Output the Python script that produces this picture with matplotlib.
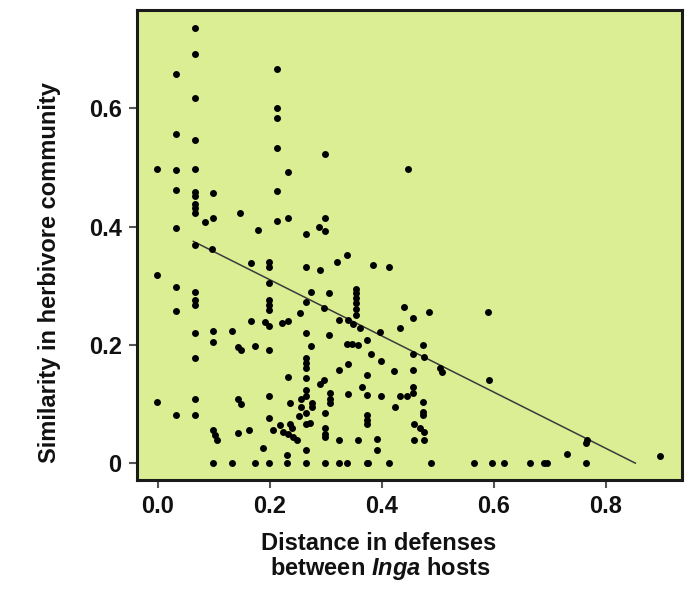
import matplotlib
matplotlib.use("Agg")
import matplotlib.pyplot as plt

# distance in defenses (x) vs. similarity in herbivore community (y)
dist_x = [
    0.066, 0.066, 0.032, 0.066, 0.032, 0.066, -0.001, 0.032, 0.066, 0.032,
    0.066, 0.066, 0.099, 0.066, 0.066, 0.066, 0.099, 0.084, 0.032, 0.147,
    0.179, 0.212, 0.212, 0.212, 0.212, 0.299, 0.233, 0.446, 0.212, 0.212,
    0.233, 0.299, 0.287, 0.299, 0.265, 0.066, 0.096,
    -0.001, 0.032, 0.032, 0.066, 0.066, 0.066, 0.066, 0.099, 0.099, 0.132,
    0.142, 0.148, 0.066, -0.001, 0.032, 0.066, 0.066, 0.142, 0.148, 0.099,
    0.102, 0.105, 0.142, 0.162, 0.099, 0.132,
    0.166, 0.199, 0.199, 0.265, 0.289, 0.320, 0.338, 0.384, 0.412,
    0.199, 0.273, 0.306, 0.265, 0.199, 0.199, 0.199, 0.296, 0.253,
    0.354, 0.354, 0.354, 0.354, 0.354, 0.354,
    0.439, 0.456, 0.484,
    0.166, 0.191, 0.199, 0.221, 0.233, 0.324, 0.340, 0.349, 0.361, 0.397, 0.432,
    0.174, 0.199, 0.265, 0.273, 0.306, 0.338, 0.346, 0.358, 0.373, 0.473,
    0.380, 0.398, 0.456, 0.475,
    0.265, 0.265, 0.265, 0.323, 0.339, 0.373, 0.421, 0.456,
    0.233, 0.265, 0.296, 0.290, 0.364, 0.373, 0.398, 0.432, 0.445, 0.456, 0.456,
    0.199, 0.265, 0.265, 0.235, 0.255, 0.255, 0.252, 0.275, 0.275, 0.308,
    0.308, 0.308, 0.340, 0.424, 0.473, 0.473, 0.473,
    0.199, 0.265, 0.265, 0.272, 0.299, 0.299, 0.299, 0.299, 0.373, 0.373,
    0.373, 0.457, 0.469, 0.475,
    0.206, 0.218, 0.224, 0.233, 0.242, 0.248, 0.235, 0.239,
    0.187, 0.265, 0.324, 0.358, 0.391, 0.391, 0.457, 0.475,
    0.174, 0.199, 0.231, 0.231, 0.265, 0.299, 0.323, 0.338, 0.373, 0.376,
    0.412, 0.487, 0.564, 0.597, 0.618, 0.665, 0.690, 0.695, 0.765,
    0.731, 0.765, 0.766, 0.898, 0.589, 0.591, 0.504, 0.507,
]
sim_y = [
    0.735, 0.691, 0.658, 0.617, 0.556, 0.547, 0.498, 0.495, 0.498, 0.462,
    0.459, 0.452, 0.457, 0.438, 0.431, 0.423, 0.415, 0.408, 0.397, 0.423,
    0.394, 0.666, 0.601, 0.584, 0.532, 0.522, 0.493, 0.498, 0.460, 0.409,
    0.415, 0.415, 0.400, 0.393, 0.387, 0.369, 0.362,
    0.318, 0.298, 0.257, 0.290, 0.276, 0.267, 0.220, 0.223, 0.205, 0.223,
    0.197, 0.191, 0.178, 0.103, 0.081, 0.109, 0.081, 0.109, 0.100, 0.056,
    0.047, 0.039, 0.051, 0.056, 0.0, 0.0,
    0.338, 0.340, 0.332, 0.332, 0.326, 0.340, 0.352, 0.335, 0.332,
    0.304, 0.290, 0.288, 0.273, 0.276, 0.267, 0.259, 0.262, 0.253,
    0.295, 0.287, 0.279, 0.270, 0.260, 0.250,
    0.264, 0.245, 0.256,
    0.241, 0.239, 0.232, 0.237, 0.240, 0.242, 0.242, 0.236, 0.228, 0.222, 0.228,
    0.198, 0.191, 0.220, 0.198, 0.216, 0.202, 0.202, 0.199, 0.208, 0.199,
    0.185, 0.172, 0.185, 0.180,
    0.177, 0.169, 0.160, 0.158, 0.167, 0.149, 0.156, 0.158,
    0.146, 0.144, 0.140, 0.134, 0.129, 0.115, 0.114, 0.113, 0.113, 0.128, 0.118,
    0.113, 0.123, 0.113, 0.102, 0.109, 0.095, 0.080, 0.101, 0.095, 0.119,
    0.109, 0.101, 0.117, 0.095, 0.104, 0.087, 0.081,
    0.076, 0.084, 0.067, 0.068, 0.084, 0.059, 0.050, 0.044, 0.081, 0.073,
    0.066, 0.067, 0.059, 0.053,
    0.056, 0.064, 0.053, 0.050, 0.044, 0.039, 0.067, 0.059,
    0.026, 0.023, 0.039, 0.039, 0.040, 0.022, 0.039, 0.039,
    0.0, 0.0, 0.0, 0.014, 0.0, 0.0, 0.0, 0.0, 0.0, 0.0,
    0.0, 0.0, 0.0, 0.0, 0.0, 0.0, 0.0, 0.0, 0.0,
    0.016, 0.034, 0.039, 0.012, 0.256, 0.140, 0.160, 0.154,
]

# regression line end points
fit_x = [0.063, 0.853]
fit_y = [0.375, 0.0]

x_ticks = [0.0, 0.2, 0.4, 0.6, 0.8]
x_tick_labels = ["0.0", "0.2", "0.4", "0.6", "0.8"]
y_ticks = [0.0, 0.2, 0.4, 0.6]
y_tick_labels = ["0", "0.2", "0.4", "0.6"]

plt.rcParams['font.family'] = ['Liberation Sans', 'DejaVu Sans']
plt.rcParams['mathtext.fontset'] = 'custom'
plt.rcParams['mathtext.it'] = 'Liberation Sans:italic:bold'

fig = plt.figure(figsize=(6.92, 5.92), dpi=100)
ax = fig.add_axes([0.198, 0.189, 0.788, 0.794])
ax.set_facecolor('#dbee93')

ax.plot(fit_x, fit_y, color='#3a3a3a', linewidth=1.1, zorder=2)
ax.plot(dist_x, sim_y, 'o', color='black', markersize=5, markeredgewidth=0, zorder=3)

ax.set_xlim(-0.0376, 0.937)
ax.set_ylim(-0.0287, 0.766)

ax.set_xticks(x_ticks)
ax.set_xticklabels(x_tick_labels)
ax.set_yticks(y_ticks)
ax.set_yticklabels(y_tick_labels)
ax.tick_params(direction='out', length=6, width=1.5, color='#555555',
               labelsize=17, pad=5)
for lab in ax.get_xticklabels() + ax.get_yticklabels():
    lab.set_fontweight('bold')
    lab.set_color('#111111')

for sp in ax.spines.values():
    sp.set_linewidth(2.2)
    sp.set_color('#1a1a1a')

fig.text(379 / 692, 1 - 543 / 592, 'Distance in defenses', ha='center', va='center',
         fontsize=17, fontweight='bold', color='#111111')
fig.text(380 / 692, 1 - 568 / 592, r'between $\mathit{Inga}$ hosts', ha='center',
         va='center', fontsize=17, fontweight='bold', color='#111111')
fig.text(50 / 692, 1 - 273 / 592, 'Similarity in herbivore community', rotation=90,
         ha='center', va='center', fontsize=17, fontweight='bold', color='#111111')

fig.savefig('out.png', dpi=100, facecolor='white')
